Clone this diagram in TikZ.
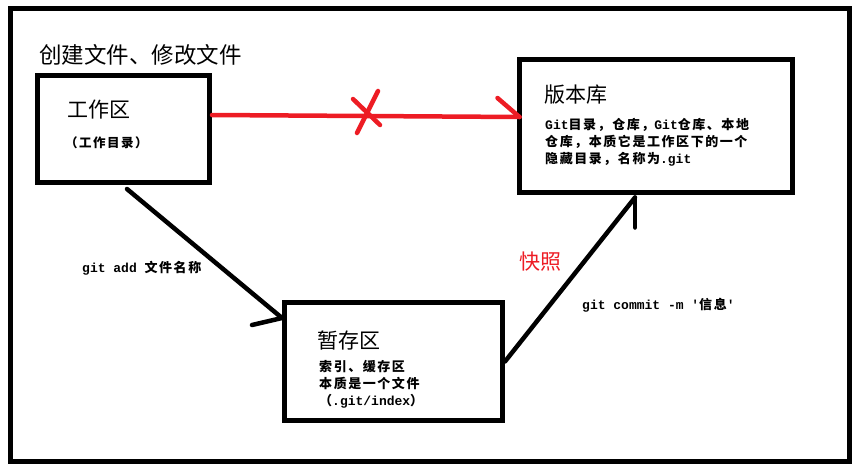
\documentclass[tikz,border=0pt]{standalone}
\usepackage{fontspec}
\setmainfont{Noto Sans CJK SC}
\newfontfamily\codefont{Liberation Mono}
\usetikzlibrary{calc}
\definecolor{gitred}{RGB}{237,28,36}
\newcommand{\code}[1]{{\codefont\bfseries\fontsize{13}{13}\selectfont #1}}
\newcommand{\spaced}{\bfseries\addfontfeature{LetterSpace=12}}

\begin{document}
\begin{tikzpicture}[
  x=1pt, y=-1pt,
  box/.style={draw, line width=5pt, inner sep=0pt},
  heading/.style={font=\fontsize{21}{24}\selectfont, anchor=west, inner sep=0pt},
  note/.style={font=\fontsize{13}{17}\selectfont\spaced, anchor=west,
               align=left, inner sep=0pt},
  flow/.style={line width=4.5pt, line cap=round},
  redflow/.style={flow, draw=gitred},
]
\useasboundingbox (0,0) rectangle (866,474);

%% ── Frame ─────────────────────────────────────────────────────────────────
\draw[line width=5pt] (10.5,8.5) rectangle (849.5,461.5);

\node[font=\fontsize{22.5}{26}\selectfont, anchor=west, inner sep=0pt] (title)
  at (39,55) {创建文件、修改文件};

%% ── Areas ─────────────────────────────────────────────────────────────────
\node[box, minimum width=172pt, minimum height=107pt] (work)  at (123.5,129) {};
\node[box, minimum width=273pt, minimum height=133pt] (repo)  at (656,126) {};
\node[box, minimum width=218pt, minimum height=118pt] (stage) at (393.5,361.5) {};

\node[heading] (workname) at (67,110) {工作区};
\node[note, font=\fontsize{12.5}{16}\selectfont\spaced] (worknote)
  at (65,143) {（工作目录）};

\node[heading] (reponame) at (544,95) {版本库};
\node[note] (reponote) at (545,142.5) {%
  \code{Git}目录，仓库，\code{Git}仓库、本地\\
  仓库，本质它是工作区下的一个\\
  隐藏目录，名称为\code{.git}};

\node[heading] (stagename) at (317,340) {暂存区};
\node[note] (stagenote) at (319,384) {%
  索引、缓存区\\
  本质是一个文件\\
  （\code{.git/index}）};

%% ── Transitions ───────────────────────────────────────────────────────────
% work -> repo: not allowed
\draw[redflow] ([yshift=14pt]work.east) -- ([xshift=2.5pt,yshift=9pt]repo.west)
  coordinate (redtip);
\draw[redflow] (redtip) -- ++(-22,-19);
\coordinate (block) at (367,112);
\draw[redflow] ($(block)+(-14,-13)$) -- ($(block)+(13,13)$);
\draw[redflow] ($(block)+(11,-21)$) -- ($(block)+(-10,21)$);

% work -> stage: git add
\draw[flow] ([xshift=3.5pt,yshift=-4pt]work.south) -- ([yshift=43.5pt]stage.west)
  coordinate (addtip);
\draw[flow] (addtip) -- ++(-30,7);
\node[anchor=west, inner sep=0pt] (addlabel) at (82,268)
  {\code{git add }{\fontsize{13}{17}\selectfont\spaced 文件名称}};

% stage -> repo: git commit
\draw[flow] (stage.east) -- ([xshift=-21pt,yshift=-2.5pt]repo.south)
  coordinate (committip);
\draw[flow] (committip) -- ++(0,30);
\node[heading, text=gitred] (snapshot) at (519,262) {快照};
\node[anchor=west, inner sep=0pt] (commitlabel) at (582,305)
  {\code{git commit -m '}{\fontsize{13}{17}\selectfont\spaced 信息}\code{'}};

\end{tikzpicture}
\end{document}
